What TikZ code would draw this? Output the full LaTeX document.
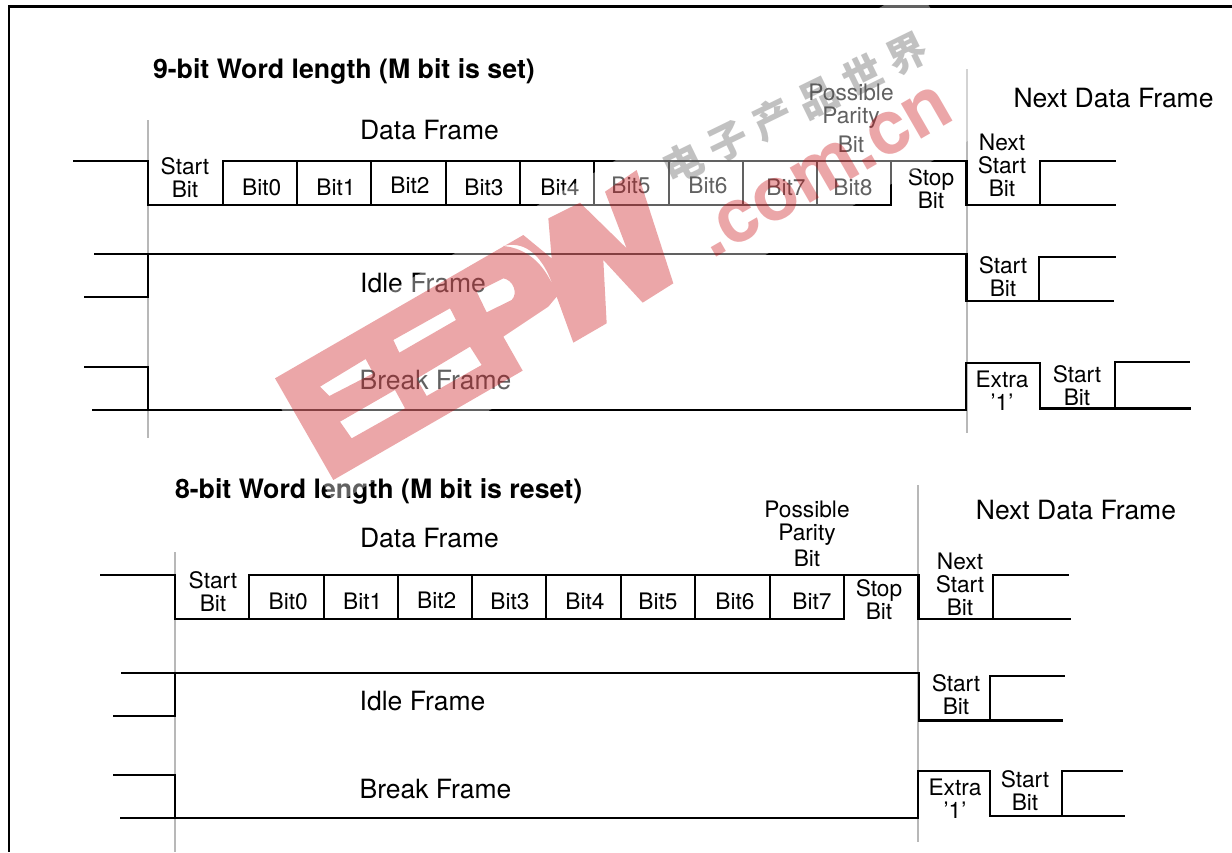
\documentclass[tikz,border=0pt]{standalone}
\usepackage{fontspec}
\setmainfont{TeX Gyre Heros}
\newfontfamily\cjkwm{Noto Sans CJK SC}
\definecolor{wmred}{HTML}{C80008}
\definecolor{wmgrey}{HTML}{505050}
\definecolor{gridgrey}{HTML}{B8B8B8}
\tikzset{
  sig/.style={draw=black,line width=2.2pt,line cap=butt,line join=miter},
  grid line/.style={draw=gridgrey,line width=2pt},
  lab/.style={anchor=base,inner sep=0pt,outer sep=0pt,align=center,font=\fontsize{22.7}{23}\selectfont},
  big/.style={anchor=base,inner sep=0pt,outer sep=0pt,font=\fontsize{26.5}{30}\selectfont},
  ttl/.style={anchor=base west,inner sep=0pt,outer sep=0pt,font=\fontsize{26.7}{30}\selectfont\bfseries}
}
\begin{document}
\begin{tikzpicture}[x=1pt,y=-1pt]
\useasboundingbox (0,0) rectangle (1232,852);
\fill[white] (0,0) rectangle (1232,852);
% frame
\draw[sig] (1232,6.5) -- (9,6.5) -- (9,852);
% grid lines
\draw[grid line] (148,120) -- (148,438);
\draw[grid line] (966.5,69) -- (966.5,433);
\draw[grid line] (174.5,552) -- (174.5,852);
\draw[grid line] (918.3,485) -- (918.3,842);

% --- 9-bit ---
\node[ttl] (t9) at (153,78) {9-bit Word length (M bit is set)};
\node[big] (df9) at (429.5,139) {Data Frame};
\node[big] (nd9) at (1113.5,107) {Next Data Frame};
\draw[sig] (73,161) -- (148,161) -- (148,205) -- (891,205) -- (891,161);
\draw[sig] (222.7,205) -- (222.7,161) -- (966.5,161) -- (966.5,205) -- (1116,205);
\draw[sig] (297,161) -- (297,205) (371,161) -- (371,205) (446,161) -- (446,205)
  (520,161) -- (520,205) (594,161) -- (594,205) (669,161) -- (669,205)
  (743,161) -- (743,205) (817,161) -- (817,205);
\draw[sig] (1040,205) -- (1040,161) -- (1116,161);
\node[lab] (st9) at (185,197) {Start\\Bit};
\node[lab] (b90) at (261.7,195) {Bit0};
\node[lab] (b91) at (336,195) {Bit1};
\node[lab] (b92) at (410,193.7) {Bit2};
\node[lab] (b93) at (484,195) {Bit3};
\node[lab] (b94) at (560,195) {Bit4};
\node[lab] (b95) at (631,193.5) {Bit5};
\node[lab] (b96) at (708,193.5) {Bit6};
\node[lab] (b97) at (786,195) {Bit7};
\node[lab] (b98) at (853,195) {Bit8};
\node[lab] (sp9) at (931,208) {Stop\\Bit};
\node[lab] (pp9) at (851,152.3) {Possible\\Parity\\[6pt]Bit};
\node[lab] (ns9) at (1002,196.7) {Next\\Start\\Bit};
% idle
\draw[sig] (94,254) -- (966.5,254) -- (966.5,301) -- (1114,301);
\draw[sig] (84,297) -- (148,297) -- (148,254);
\draw[sig] (1039,301) -- (1039,257) -- (1116,257);
\node[big] (if9) at (423,292.3) {Idle Frame};
\node[lab] (si9) at (1003,296) {Start\\Bit};
% break
\draw[sig] (84,367) -- (148,367) -- (148,410);
\draw[sig] (92,410) -- (966,410) -- (966,363) -- (1040,363) -- (1040,408.5) -- (1191,408.5);
\draw[sig] (1115,408.5) -- (1115,362) -- (1190,362);
\node[big] (bf9) at (435.5,389) {Break Frame};
\node[lab] (ex9) at (1002,410) {Extra\\’1’};
\node[lab] (sb9) at (1077,405) {Start\\Bit};

% --- 8-bit ---
\node[ttl] (t8) at (175,498) {8-bit Word length (M bit is reset)};
\node[big] (df8) at (429.5,547) {Data Frame};
\node[big] (nd8) at (1076,519) {Next Data Frame};
\draw[sig] (100,575) -- (175,575) -- (175,619) -- (844,619) -- (844,575);
\draw[sig] (248.7,619) -- (248.7,575) -- (918.5,575) -- (918.5,619) -- (1071,619);
\draw[sig] (323.7,575) -- (323.7,619) (398,575) -- (398,619) (472,575) -- (472,619)
  (546,575) -- (546,619) (621,575) -- (621,619) (695,575) -- (695,619) (770,575) -- (770,619);
\draw[sig] (992.7,619) -- (992.7,575) -- (1069,575);
\node[lab] (st8) at (213,611.7) {Start\\Bit};
\node[lab] (b80) at (288.3,609.3) {Bit0};
\node[lab] (b81) at (362.7,609.3) {Bit1};
\node[lab] (b82) at (436.7,608.3) {Bit2};
\node[lab] (b83) at (510,609.3) {Bit3};
\node[lab] (b84) at (585,609.3) {Bit4};
\node[lab] (b85) at (658,609.3) {Bit5};
\node[lab] (b86) at (735,609.3) {Bit6};
\node[lab] (b87) at (812,609.3) {Bit7};
\node[lab] (sp8) at (879,619.3) {Stop\\Bit};
\node[lab] (pp8) at (807,566) {Possible\\Parity\\[3pt]Bit};
\node[lab] (ns8) at (960,615) {Next\\Start\\Bit};
% idle
\draw[sig] (121,673) -- (919,673) -- (919,720.5) -- (1063,720.5);
\draw[sig] (113,716) -- (175,716) -- (175,673);
\draw[sig] (990,720.5) -- (990,676) -- (1065,676);
\node[big] (if8) at (422.5,710.7) {Idle Frame};
\node[lab] (si8) at (956,714) {Start\\Bit};
% break
\draw[sig] (113,775) -- (175,775) -- (175,818);
\draw[sig] (120,818) -- (918,818) -- (918,771) -- (990,771) -- (990,816) -- (1125,816);
\draw[sig] (1062,816) -- (1062,771) -- (1123,771);
\node[big] (bf8) at (435.5,798.7) {Break Frame};
\node[lab] (ex8) at (955,818) {Extra\\’1’};
\node[lab] (sb8) at (1025,810) {Start\\Bit};

% --- watermark ---
\fill[white,opacity=.38] (258,367) -- (893,0) -- (925,0) -- (1005,120) -- (490,410) -- (335,505) -- cycle;
\begin{scope}[shift={(270pt,-120pt)},x=0.33333pt,y=-0.33333pt]
\fill[wmred,opacity=.35,even odd rule]
  (15,775) -- (760,345) -- (845,415) -- (835,295) -- (930,248) -- (1070,385) -- (1005,215)
  -- (1100,150) -- (1210,490) -- (1118,548) -- (1000,420) -- (1010,610) -- (910,668)
  -- (860,530) -- (835,560) -- (700,650) -- (758,752) -- (190,1080) -- cycle
  (150,800) -- (287,717) -- (310,760) -- (178,828) -- cycle
  (210,905) -- (375,810) -- (405,865) -- (245,955) -- cycle
  (370,660) -- (540,565) -- (558,600) -- (388,698) -- cycle
  (440,776) -- (600,680) -- (635,735) -- (470,828) -- cycle
  (650,577) -- (725,540) .. controls (745,520) and (730,480) .. (700,475) -- (620,515) -- cycle
  (700,378) .. controls (750,365) and (810,385) .. (850,500) .. controls (820,430) and (770,385) .. (700,378) -- cycle;
\end{scope}
\node[anchor=base west,inner sep=0pt,rotate=30,text=wmred,text opacity=.35,
      font=\fontsize{75}{80}\selectfont\bfseries] (wmurl) at (712,260) {.com.cn};
\node[rotate=26,text=wmgrey,text opacity=.35,inner sep=0pt,
      font=\cjkwm\bfseries\fontsize{40}{44}\selectfont] (wmcn) at (795,108)
      {电\kern10pt 子\kern10pt 产\kern10pt 品\kern10pt 世\kern10pt 界};
\end{tikzpicture}
\end{document}
